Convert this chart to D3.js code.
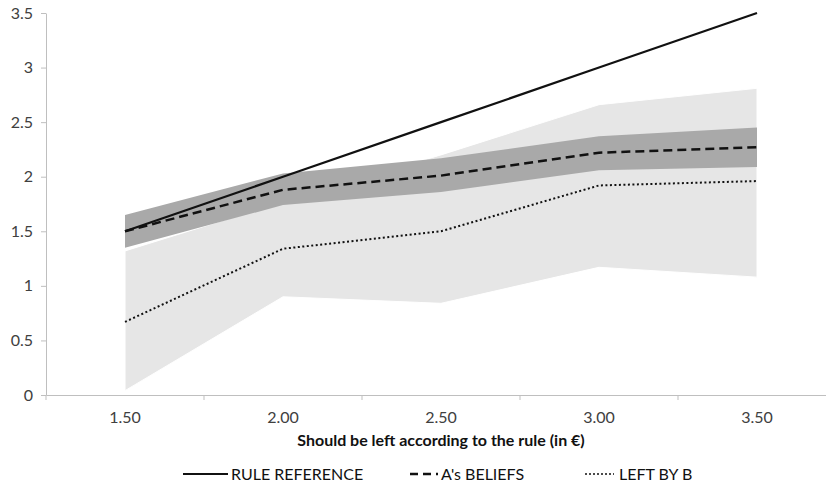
<!DOCTYPE html>
<html><head><meta charset="utf-8">
<script src="https://cdn.jsdelivr.net/npm/d3@7"></script>
<style>body{margin:0;background:#fff}svg{display:block}text{font-family:Lato,"Open Sans",sans-serif}</style>
</head><body>
<svg id="c" width="826" height="489"></svg>
<script>
const categories = ["1.50","2.00","2.50","3.00","3.50"];
const ruleReference = [1.5, 2.0, 2.5, 3.0, 3.5];
const aBeliefs = [1.5, 1.88, 2.01, 2.22, 2.27];
const aLow = [1.35, 1.74, 1.86, 2.06, 2.09];
const aHigh = [1.65, 2.03, 2.17, 2.37, 2.45];
const leftByB = [0.67, 1.34, 1.5, 1.92, 1.96];
const bLow = [0.04, 0.9, 0.84, 1.17, 1.08];
const bHigh = [1.32, 1.77, 2.2, 2.66, 2.81];
const yTicks = [0, 0.5, 1, 1.5, 2, 2.5, 3, 3.5];

const svg = d3.select("#c");
const x = d3.scaleBand().domain(categories).range([46, 836]);
const y = d3.scaleLinear().domain([0, 3.5]).range([395, 13]);
const cx = i => x(categories[i]) + x.bandwidth()/2;
const idx = d3.range(categories.length);

const area = (lo, hi) => d3.area().x(i => cx(i)).y0(i => y(lo[i])).y1(i => y(hi[i]))(idx);
svg.append("path").attr("d", area(bLow, bHigh)).attr("fill", "#e6e6e6").attr("stroke", "#fff").attr("stroke-width", 1);
svg.append("path").attr("d", area(aLow, aHigh)).attr("fill", "#a9a9a9");

// axes
const gy = svg.append("g").attr("transform", "translate(46,0)")
  .call(d3.axisLeft(y).tickValues(yTicks).tickFormat(d => String(d)).tickSize(5).tickSizeOuter(0));
gy.select(".domain").attr("stroke", "#bfbfbf");
gy.selectAll(".tick line").attr("stroke", "#bfbfbf");
gy.selectAll(".tick text").attr("font-size", 16).attr("fill", "#404040").attr("x", -13);

const gx = svg.append("g").attr("transform", "translate(0,395)")
  .call(d3.axisBottom(x).tickSize(0).tickPadding(17).tickSizeOuter(0));
gx.select(".domain").attr("stroke", "#bfbfbf");
gx.selectAll(".tick text").attr("font-size", 16).attr("fill", "#404040");
// boundary ticks between categories
const bounds = categories.map(c => x(c));
gx.selectAll(".bt").data(bounds).enter().append("line")
  .attr("x1", d => d).attr("x2", d => d).attr("y1", 0).attr("y2", 5).attr("stroke", "#bfbfbf");

const line = vals => d3.line().x(i => cx(i)).y(i => y(vals[i]))(idx);
svg.append("path").attr("d", line(ruleReference)).attr("fill","none").attr("stroke","#111").attr("stroke-width",2.2);
svg.append("path").attr("d", line(aBeliefs)).attr("fill","none").attr("stroke","#111").attr("stroke-width",2.5).attr("stroke-dasharray","9,5");
svg.append("path").attr("d", line(leftByB)).attr("fill","none").attr("stroke","#111").attr("stroke-width",2).attr("stroke-dasharray","2,2.5");

svg.append("text").attr("x", 441).attr("y", 446).attr("text-anchor","middle")
  .attr("font-size", 16).attr("font-weight","bold").attr("fill","#111")
  .text("Should be left according to the rule (in €)");

const legend = [
  {label:"RULE REFERENCE", dash:null, w:2.2, x1:183, x2:228, tx:231},
  {label:"A's BELIEFS", dash:"8,5", w:2.5, x1:410, x2:438, tx:441},
  {label:"LEFT BY B", dash:"2,2", w:1.5, x1:585, x2:614, tx:619}
];
const lg = svg.append("g");
legend.forEach(l => {
  lg.append("line").attr("x1", l.x1).attr("x2", l.x2).attr("y1", 474).attr("y2", 474)
    .attr("stroke","#111").attr("stroke-width", l.w).attr("stroke-dasharray", l.dash);
  lg.append("text").attr("x", l.tx).attr("y", 480).attr("font-size", 16).attr("fill","#111").text(l.label);
});
</script>
</body></html>
